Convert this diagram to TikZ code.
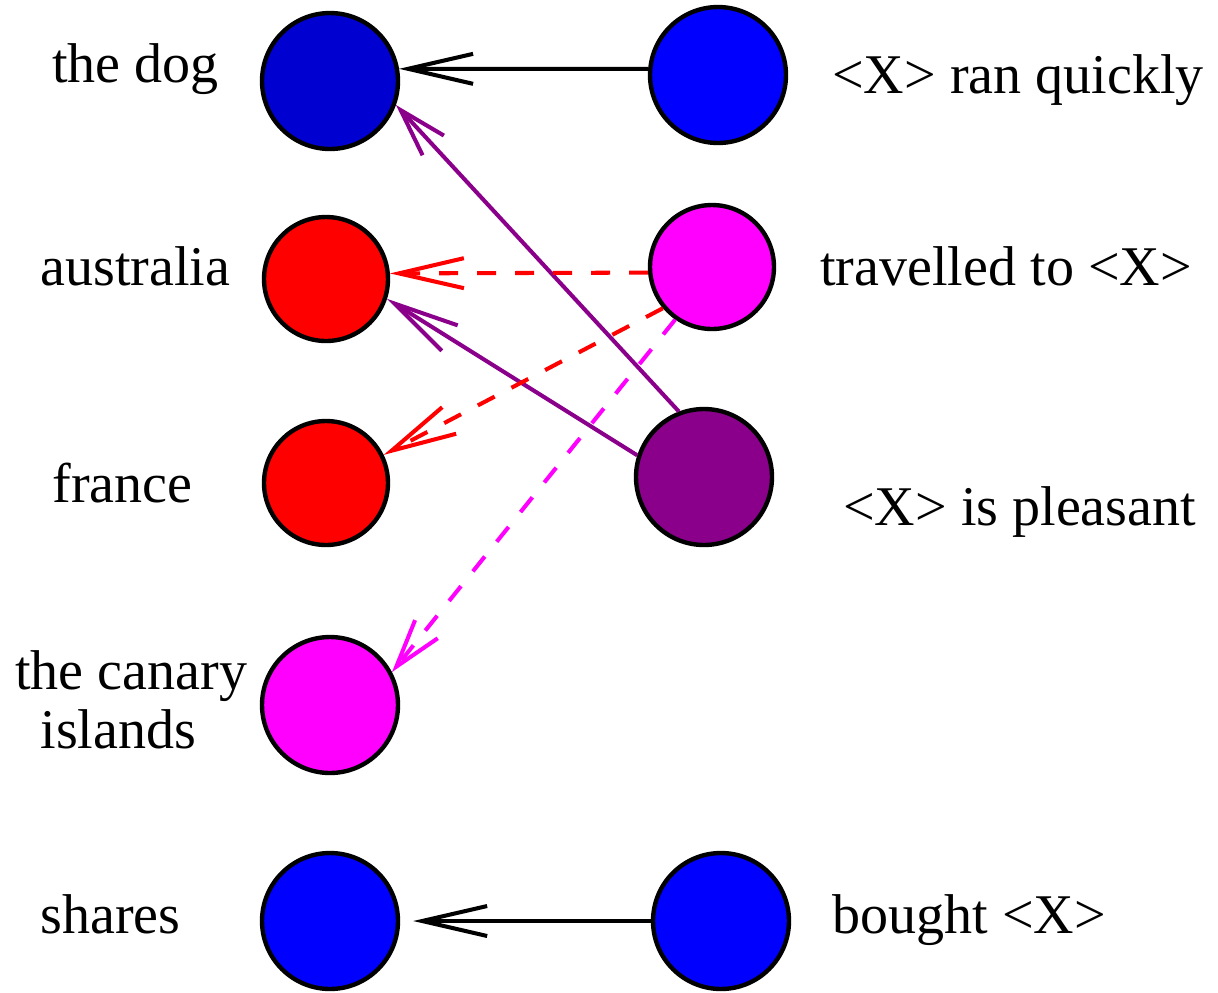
\documentclass[tikz,border=0pt]{standalone}
\usepackage{fontspec}
\setmainfont{Liberation Serif}
\usetikzlibrary{arrows.meta}
\definecolor{DogBlue}{HTML}{0000D0}
\definecolor{Blue}{HTML}{0000FF}
\definecolor{Red}{HTML}{FF0000}
\definecolor{Pink}{HTML}{FF00FF}
\definecolor{Plum}{HTML}{8B008B}
\tikzset{
  blob/.style={circle,draw=black,line width=2.5pt,minimum size=2.72cm,inner sep=0pt},
  smallblob/.style={blob,minimum size=2.48cm},
  word/.style={anchor=base west,inner sep=0pt,align=left,font=\fontsize{31.9}{33.5}\selectfont},
  link/.style={-{Straight Barb[length=1.3cm,width=0.6cm]},line width=2.3pt},
  shortlink/.style={-{Straight Barb[length=0.96cm,width=0.58cm]},line width=2.3pt},
  broken/.style={dash pattern=on 0.38cm off 0.38cm}
}

\begin{document}
\begin{tikzpicture}[x=0.02cm,y=-0.02cm]
  \useasboundingbox (0,0) rectangle (1218,992);
  % left column
  \node[blob,fill=DogBlue] (dog) at (330,81) {};
  \node[smallblob,fill=Red] (australia) at (326,279) {};
  \node[smallblob,fill=Red] (france) at (326,483) {};
  \node[blob,fill=Pink] (canary) at (330,705) {};
  \node[blob,fill=Blue] (shares) at (330,921) {};
  % right column
  \node[blob,fill=Blue] (ranquickly) at (718,75) {};
  \node[smallblob,fill=Pink] (travelled) at (712,267) {};
  \node[blob,fill=Plum] (pleasant) at (704,477) {};
  \node[blob,fill=Blue] (bought) at (721,921) {};
  % labels
  \node[word] (dogtext) at (52,82) {the dog};
  \node[word] (australiatext) at (40,285) {australia};
  \node[word] (francetext) at (52,502) {france};
  \node[word] (canarytext) at (15,748) {the canary\\\hspace*{0.45em}islands};
  \node[word] (sharestext) at (40,933) {shares};
  \node[word] (ranquicklytext) at (832,93) {<X> ran quickly};
  \node[word] (travelledtext) at (820,285) {travelled to <X>};
  \node[word] (pleasanttext) at (843,525) {<X> is pleasant};
  \node[word] (boughttext) at (832,933) {bought <X>};
  % arrows
  \draw[link] (ranquickly.175) -- (dog.10);
  \draw[shortlink,Plum] (pleasant.111) -- (dog.-20);
  \draw[link,broken,Red] (travelled.185) -- (australia.5);
  \draw[link,Plum] (pleasant.162) -- (australia.-18);
  \draw[link,broken,Red] (travelled.220) -- (france.26);
  \draw[shortlink,broken,Pink] (travelled.235) -- (canary.28);
  \draw[link,shorten >=0.26cm] (bought) -- (shares);
\end{tikzpicture}
\end{document}
